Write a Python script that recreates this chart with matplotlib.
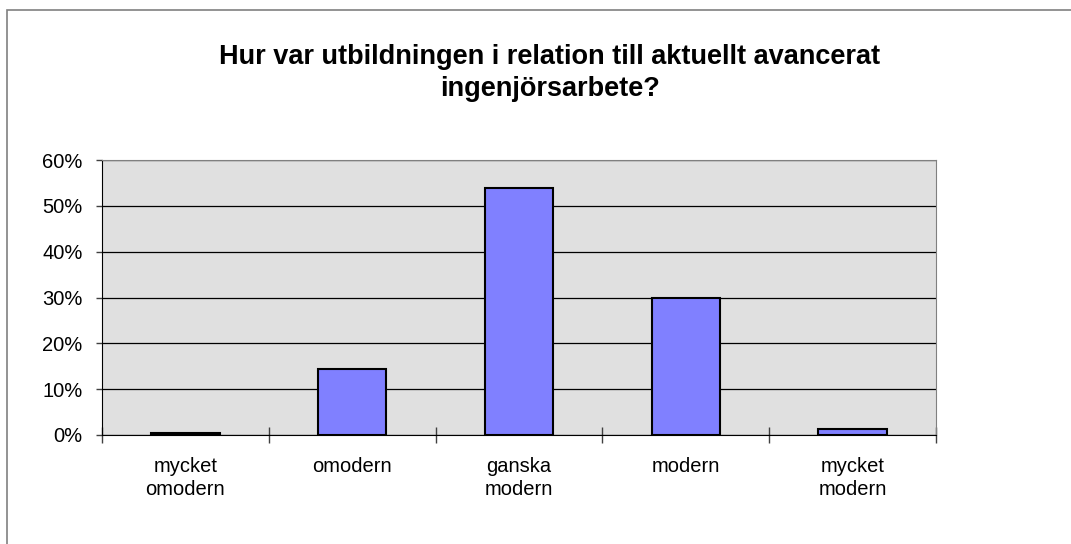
import matplotlib.pyplot as plt
import matplotlib.patches as patches
from matplotlib.ticker import PercentFormatter, MultipleLocator

# Data
categories = ['mycket\nomodern', 'omodern', 'ganska\nmodern', 'modern', 'mycket\nmodern']
values = [0.4, 14.3, 53.9, 30.0, 1.3]

plt.rcParams['font.family'] = ['Liberation Sans', 'DejaVu Sans']

fig = plt.figure(figsize=(10.71, 5.44), dpi=100)
ax = fig.add_axes([102 / 1071, 1 - 435 / 544, 834 / 1071, 275 / 544])

# outer chart border
fig.patches.append(patches.Rectangle((7 / 1071, -0.05), 1.1, 1 - 10 / 544 + 0.05,
                                     transform=fig.transFigure, fill=False,
                                     edgecolor='#808080', linewidth=1.2))

x = range(len(categories))
ax.set_facecolor('#e0e0e0')
ax.bar(x, values, width=0.41, color='#8080ff', edgecolor='black', linewidth=1.5, zorder=3)

ax.set_xlim(-0.5, len(categories) - 0.5)
ax.set_ylim(0, 60)
ax.yaxis.set_major_locator(MultipleLocator(10))
ax.yaxis.set_major_formatter(PercentFormatter(decimals=0))
ax.grid(axis='y', color='black', linewidth=0.9, zorder=1)

ax.set_xticks(list(x))
ax.set_xticklabels(categories, fontsize=14.5, linespacing=1.25)
ax.tick_params(axis='x', length=0, pad=16)
ax.set_xticks([i - 0.5 for i in range(len(categories) + 1)], minor=True)
ax.tick_params(axis='x', which='minor', direction='inout', length=12, width=1, color='#404040')
ax.tick_params(axis='y', labelsize=14.5, length=4.5, width=1, color='#404040', pad=9.5)

for s in ['top', 'right']:
    ax.spines[s].set_color('#808080')
for s in ['left', 'bottom']:
    ax.spines[s].set_color('black')

fig.text(550 / 1071, 1 - 73 / 544,
         'Hur var utbildningen i relation till aktuellt avancerat\ningenjörsarbete?',
         ha='center', va='center', fontsize=19.5, fontweight='bold', linespacing=1.35)

fig.savefig('out.png', dpi=100)
